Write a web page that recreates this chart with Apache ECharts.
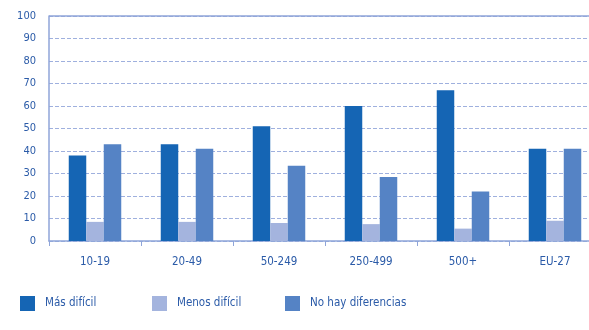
<!DOCTYPE html>
<html><head><meta charset="utf-8">
<script src="https://cdn.jsdelivr.net/npm/echarts@6/dist/echarts.min.js"></script>
<style>html,body{margin:0;padding:0;background:#fff;overflow:hidden}#c{width:601px;height:330px}</style>
</head><body><div id="c"></div>
<script>
const categories = ['10-19', '20-49', '50-249', '250-499', '500+', 'EU-27'];
const masDificil = [38, 43, 51, 60, 67, 41];
const menosDificil = [8.5, 8.5, 8, 7.5, 5.5, 9];
const noHayDiferencias = [43, 41, 33.5, 28.5, 22, 41];
const seriesNames = ['Más difícil', 'Menos difícil', 'No hay diferencias'];
const colors = ['#1565b4', '#a4b4de', '#5583c5'];
const yTicks = [0, 10, 20, 30, 40, 50, 60, 70, 80, 90, 100];

const font = '"DejaVu Sans Condensed", "Liberation Sans Narrow", sans-serif';
const axisColor = '#8fa5d9';
const textColor = '#2b5ba8';
const chart = echarts.init(document.getElementById('c'));
const legendPos = [20, 152, 285];
chart.setOption({
  animation: false,
  textStyle: { fontFamily: font },
  grid: { left: 49, top: 16, right: 0, height: 225 },
  legend: seriesNames.map((n, i) => ({
    data: [n], left: legendPos[i], top: 296, padding: 0, itemWidth: 15, itemHeight: 15, itemGap: 0,
    icon: 'rect', textStyle: { color: textColor, fontSize: 11.5, fontFamily: font, padding: [0, 0, 0, 5] }
  })),
  xAxis: {
    type: 'category', data: categories,
    axisLine: { lineStyle: { color: axisColor, width: 1.5 } },
    axisTick: { show: true, length: 5, lineStyle: { color: axisColor } },
    axisLabel: { color: textColor, fontSize: 11.5, fontFamily: font, margin: 15 }
  },
  yAxis: {
    type: 'value', min: yTicks[0], max: yTicks[yTicks.length - 1], interval: 10,
    axisLine: { show: true, lineStyle: { color: axisColor, width: 1.5 } },
    axisTick: { show: false },
    axisLabel: { color: textColor, fontSize: 11, fontFamily: font, margin: 13 },
    splitLine: { show: true, lineStyle: { color: '#9fb0de', type: [4, 2], width: 1 } }
  },
  series: seriesNames.map((n, i) => ({
    name: n, type: 'bar', data: [masDificil, menosDificil, noHayDiferencias][i],
    barWidth: 17.5, barGap: '0%', itemStyle: { color: colors[i] },
    markLine: i === 0 ? { silent: true, symbol: 'none', label: { show: false },
      lineStyle: { color: axisColor, type: 'solid', width: 1.5 }, data: [{ yAxis: 100 }] } : undefined
  }))
});
</script></body></html>
